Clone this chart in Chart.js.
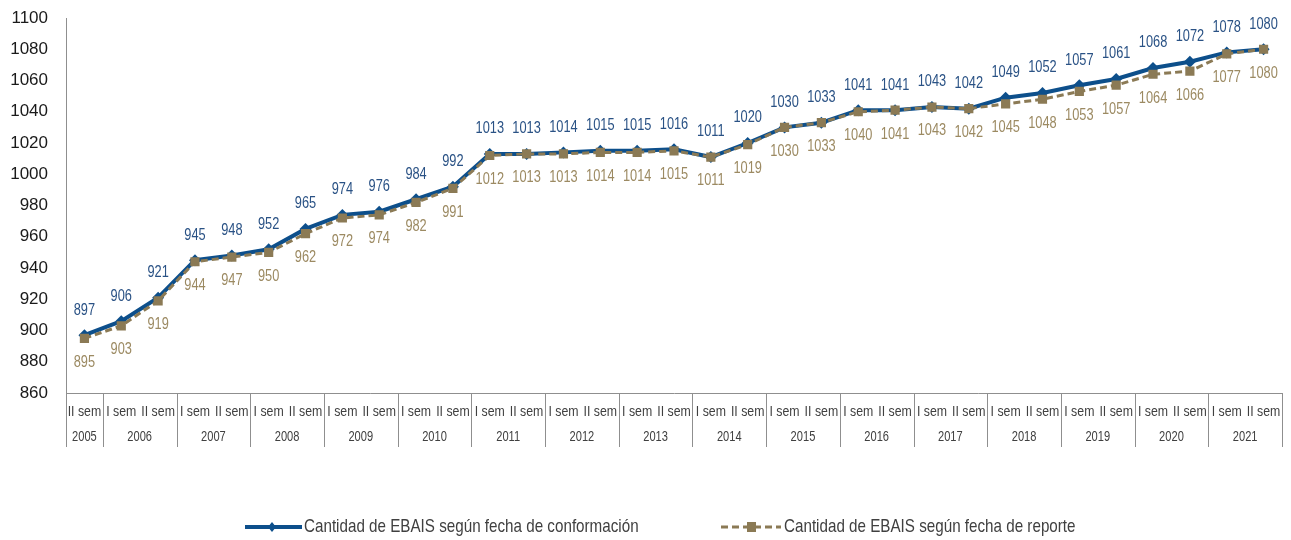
<!DOCTYPE html>
<html>
<head>
<meta charset="utf-8">
<script src="https://cdn.jsdelivr.net/npm/chart.js@4/dist/chart.umd.min.js"></script>
<style>
  html, body { margin: 0; padding: 0; background: #fff; }
  #wrap { width: 1291px; height: 540px; }
</style>
</head>
<body>
<div id="wrap"><canvas id="chart" width="1291" height="540"></canvas></div>
<script>
const years = ["2005", "2006", "2007", "2008", "2009", "2010", "2011", "2012", "2013", "2014", "2015", "2016", "2017", "2018", "2019", "2020", "2021"];
const semesters = ["II sem"].concat(...years.slice(1).map(() => ["I sem", "II sem"]));
const conformacion = [897, 906, 921, 945, 948, 952, 965, 974, 976, 984, 992, 1013, 1013, 1014, 1015, 1015, 1016, 1011, 1020, 1030, 1033, 1041, 1041, 1043, 1042, 1049, 1052, 1057, 1061, 1068, 1072, 1078, 1080];
const reporte = [895, 903, 919, 944, 947, 950, 962, 972, 974, 982, 991, 1012, 1013, 1013, 1014, 1014, 1015, 1011, 1019, 1030, 1033, 1040, 1041, 1043, 1042, 1045, 1048, 1053, 1057, 1064, 1066, 1077, 1080];
const yTicks = { min: 860, max: 1100, step: 20 };

const FONT = "'Liberation Sans', Arial, sans-serif";
const BLUE = "#0d4f8b";
const BROWN = "#8b7a55";
const AXIS = "#8f8f8f";

// no narrow font installed: squeeze text horizontally
function narrowText(ctx, text, x, y, sx) {
  ctx.save();
  ctx.translate(x, y);
  ctx.scale(sx, 1);
  ctx.fillText(text, 0, 0);
  ctx.restore();
}

// value labels above (blue) and below (brown) each point
const valueLabels = {
  id: "valueLabels",
  afterDatasetsDraw(chart) {
    const ctx = chart.ctx;
    ctx.save();
    ctx.font = "16px " + FONT;
    ctx.textAlign = "center";
    ctx.textBaseline = "middle";
    chart.data.datasets.forEach((ds, i) => {
      const meta = chart.getDatasetMeta(i);
      ctx.fillStyle = ds.labelColor;
      meta.data.forEach((pt, j) => {
        narrowText(ctx, String(ds.data[j]), pt.x, pt.y + ds.labelOffset, 0.8);
      });
    });
    ctx.restore();
  }
};

// semester + year rows, separators and bottom legend
const categoryTable = {
  id: "categoryTable",
  afterDraw(chart) {
    const ctx = chart.ctx;
    const x = chart.scales.x;
    const area = chart.chartArea;
    const bottom = 447;
    ctx.save();
    ctx.strokeStyle = AXIS;
    ctx.lineWidth = 1;
    const edges = [area.left];
    let idx = 0;
    const yearCenters = [];
    years.forEach((y, k) => {
      const n = k === 0 ? 1 : 2;
      yearCenters.push((x.getPixelForValue(idx) + x.getPixelForValue(idx + n - 1)) / 2);
      idx += n;
      if (idx < semesters.length) edges.push((x.getPixelForValue(idx - 1) + x.getPixelForValue(idx)) / 2);
    });
    edges.push(area.right);
    edges.forEach((e) => {
      const px = Math.round(e) + 0.5;
      ctx.beginPath();
      ctx.moveTo(px, area.bottom);
      ctx.lineTo(px, bottom);
      ctx.stroke();
    });
    ctx.fillStyle = "#404040";
    ctx.textAlign = "center";
    ctx.textBaseline = "middle";
    ctx.font = "14px " + FONT;
    semesters.forEach((s, i) => narrowText(ctx, s, x.getPixelForValue(i), 412, 0.88));
    ctx.font = "15px " + FONT;
    years.forEach((y, k) => narrowText(ctx, y, yearCenters[k], 437, 0.74));

    // legend
    const ly = 527;
    const ds = chart.data.datasets;
    ctx.font = "19px " + FONT;
    ctx.textAlign = "left";
    ctx.strokeStyle = BLUE;
    ctx.lineWidth = 4;
    ctx.beginPath();
    ctx.moveTo(245, ly);
    ctx.lineTo(302, ly);
    ctx.stroke();
    ctx.fillStyle = BLUE;
    ctx.beginPath();
    ctx.moveTo(272, ly - 5);
    ctx.lineTo(276, ly);
    ctx.lineTo(272, ly + 5);
    ctx.lineTo(268, ly);
    ctx.closePath();
    ctx.fill();
    ctx.fillStyle = "#404040";
    narrowText(ctx, ds[0].label, 304, ly, 0.8);

    ctx.strokeStyle = BROWN;
    ctx.lineWidth = 3;
    ctx.setLineDash([7, 4]);
    ctx.beginPath();
    ctx.moveTo(721, ly);
    ctx.lineTo(781, ly);
    ctx.stroke();
    ctx.setLineDash([]);
    ctx.fillStyle = BROWN;
    ctx.fillRect(747, ly - 5, 9, 10);
    ctx.fillStyle = "#404040";
    narrowText(ctx, ds[1].label, 784, ly, 0.8);
    ctx.restore();
  }
};

new Chart(document.getElementById("chart"), {
  type: "line",
  data: {
    labels: semesters,
    datasets: [
      {
        label: "Cantidad de EBAIS según fecha de conformación",
        data: conformacion,
        borderColor: BLUE,
        backgroundColor: BLUE,
        borderWidth: 4,
        pointStyle: "rectRot",
        pointRadius: 6,
        pointBorderWidth: 0,
        tension: 0,
        order: 1,
        labelColor: "#2a5285",
        labelOffset: -25
      },
      {
        label: "Cantidad de EBAIS según fecha de reporte",
        data: reporte,
        borderColor: BROWN,
        backgroundColor: BROWN,
        borderWidth: 3,
        borderDash: [7, 4],
        pointStyle: "rect",
        pointRadius: 6.5,
        pointBorderWidth: 0,
        tension: 0,
        order: 0,
        labelColor: "#9c8a62",
        labelOffset: 24
      }
    ]
  },
  options: {
    responsive: false,
    animation: false,
    layout: { padding: { top: 18, right: 9, bottom: 0, left: 0 } },
    plugins: { legend: { display: false }, tooltip: { enabled: false } },
    scales: {
      x: {
        offset: true,
        grid: { display: false, drawTicks: false },
        border: { display: true, color: AXIS, width: 1 },
        ticks: { display: false },
        afterFit(s) { s.height = 147; }
      },
      y: {
        min: yTicks.min,
        max: yTicks.max,
        grid: { display: false, drawTicks: false },
        border: { display: true, color: AXIS, width: 1 },
        ticks: { stepSize: yTicks.step, padding: 18, color: "#1a1a1a", font: { family: FONT, size: 17 }, callback: (v) => String(v) },
        afterFit(s) {
          s.width = 66;
          s.paddingTop = 0;
          s.paddingBottom = 0;
        }
      }
    }
  },
  plugins: [valueLabels, categoryTable]
});
</script>
</body>
</html>
